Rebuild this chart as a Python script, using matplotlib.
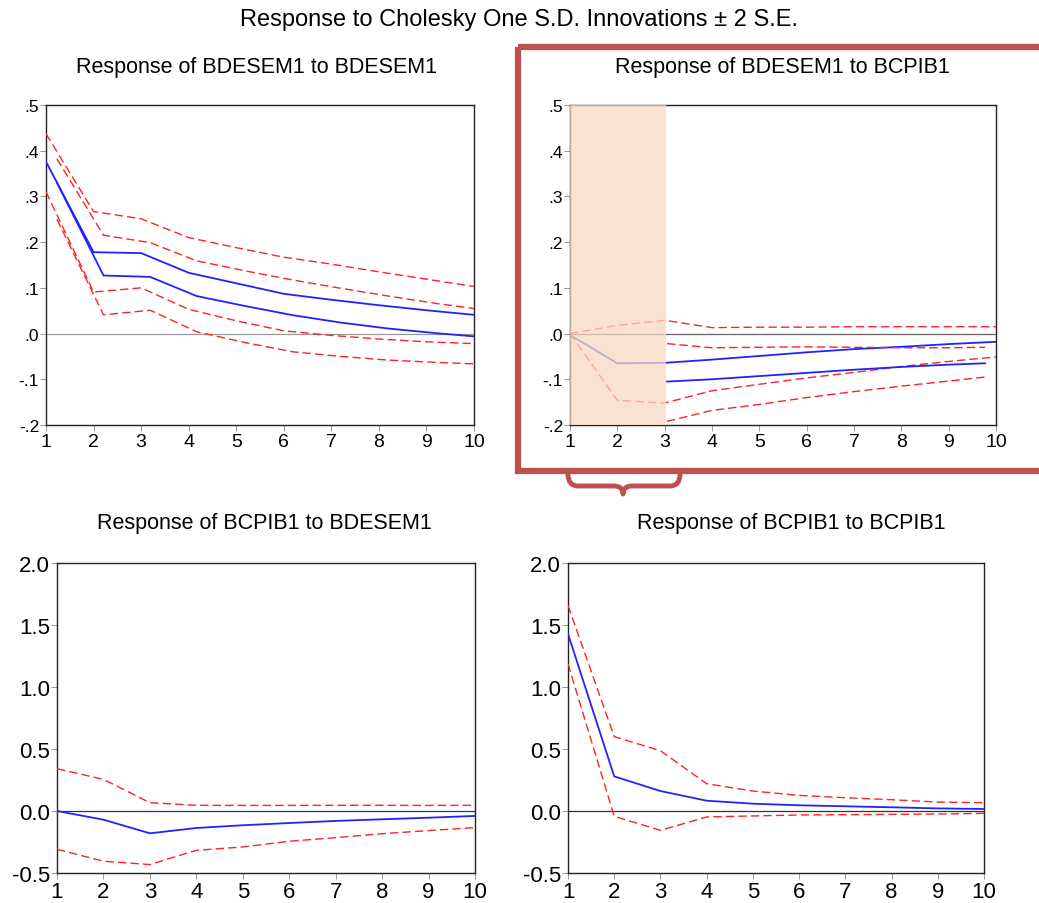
import numpy as np
import matplotlib
matplotlib.use("Agg")
import matplotlib.pyplot as plt
from matplotlib.path import Path
from matplotlib.patches import PathPatch, Rectangle

plt.rcParams['font.family'] = ['Liberation Sans', 'DejaVu Sans']

periods = np.arange(1, 11)

# Response of BDESEM1 to BDESEM1 (two overlaid estimates)
tl_resp_a = [0.376, 0.178, 0.176, 0.133, 0.110, 0.087, 0.074, 0.062, 0.051, 0.041]
tl_upper_a = [0.437, 0.267, 0.251, 0.210, 0.188, 0.167, 0.152, 0.135, 0.119, 0.103]
tl_lower_a = [0.310, 0.091, 0.100, 0.053, 0.028, 0.006, -0.004, -0.012, -0.018, -0.022]
tl_x_b = [1.23, 2.21, 3.19, 4.17, 5.2, 6.2, 7.2, 8.2, 9.2, 10.2]
tl_resp_b = [0.330, 0.127, 0.124, 0.082, 0.060, 0.040, 0.024, 0.011, 0.001, -0.008]
tl_upper_b = [0.382, 0.215, 0.199, 0.159, 0.137, 0.117, 0.099, 0.082, 0.066, 0.052]
tl_lower_b = [0.250, 0.041, 0.051, 0.004, -0.020, -0.040, -0.050, -0.058, -0.063, -0.067]

# Response of BDESEM1 to BCPIB1
tr_resp_a = [-0.003, -0.065, -0.064, -0.057, -0.049, -0.041, -0.034, -0.029, -0.023, -0.018]
tr_upper_a = [0.000, 0.018, 0.029, 0.013, 0.014, 0.014, 0.015, 0.015, 0.015, 0.015]
tr_lower_a = [0.000, -0.146, -0.152, -0.125, -0.111, -0.097, -0.085, -0.072, -0.061, -0.051]
tr_x_b = [3.05, 4, 5, 6, 7, 8, 9, 9.77]
tr_resp_b = [-0.105, -0.100, -0.093, -0.086, -0.079, -0.073, -0.068, -0.065]
tr_upper_b = [-0.022, -0.031, -0.030, -0.029, -0.030, -0.031, -0.031, -0.030]
tr_lower_b = [-0.192, -0.168, -0.155, -0.140, -0.127, -0.115, -0.104, -0.095]

# Response of BCPIB1 to BDESEM1
bl_resp = [0.000, -0.070, -0.180, -0.137, -0.115, -0.097, -0.080, -0.067, -0.054, -0.040]
bl_upper = [0.341, 0.255, 0.067, 0.046, 0.045, 0.045, 0.046, 0.046, 0.045, 0.046]
bl_lower = [-0.309, -0.405, -0.432, -0.317, -0.290, -0.244, -0.215, -0.183, -0.158, -0.134]

# Response of BCPIB1 to BCPIB1
br_resp = [1.428, 0.279, 0.161, 0.083, 0.059, 0.046, 0.038, 0.030, 0.021, 0.016]
br_upper = [1.657, 0.600, 0.486, 0.220, 0.161, 0.126, 0.107, 0.091, 0.072, 0.067]
br_lower = [1.187, -0.043, -0.156, -0.048, -0.040, -0.032, -0.030, -0.027, -0.024, -0.019]

top_ticks = [-0.2, -0.1, 0.0, 0.1, 0.2, 0.3, 0.4, 0.5]
top_labels = ['-.2', '-.1', '.0', '.1', '.2', '.3', '.4', '.5']
bot_ticks = [-0.5, 0.0, 0.5, 1.0, 1.5, 2.0]
bot_labels = ['-0.5', '0.0', '0.5', '1.0', '1.5', '2.0']

BLUE = '#2222ff'
RED = '#ff2222'
W, H = 1039, 904

fig = plt.figure(figsize=(W / 100, H / 100), dpi=100)


def px_axes(left, top, right, bottom):
    return fig.add_axes([left / W, 1 - bottom / H, (right - left) / W, (bottom - top) / H])


def px_text(x, y, s, size):
    fig.text(x / W, 1 - y / H, s, ha='center', va='center', fontsize=size)


def style(ax, ticks, labels, ylim, ysize, xsize, zc):
    ax.set_xlim(1, 10)
    ax.set_ylim(*ylim)
    ax.set_xticks(periods)
    ax.set_yticks(ticks)
    ax.set_yticklabels(labels)
    ax.tick_params(axis='y', direction='out', length=4, width=0.6, labelsize=ysize, pad=1, colors='#888888', labelcolor='black')
    ax.tick_params(axis='x', direction='out', length=4, width=0.6, labelsize=xsize, pad=2, colors='#888888', labelcolor='black')
    for s in ax.spines.values():
        s.set_linewidth(1.0)
        s.set_color('#222222')
    ax.axhline(0, color=zc, lw=0.9, zorder=1)


def draw_set(ax, x, resp, upper, lower, lw=1.3):
    ax.plot(x, resp, color=BLUE, lw=lw, zorder=3)
    ax.plot(x, upper, color=RED, lw=1.0, ls=(0, (6, 3)), zorder=3)
    ax.plot(x, lower, color=RED, lw=1.0, ls=(0, (6, 3)), zorder=3)


# top left
ax1 = px_axes(46, 106, 474, 426)
style(ax1, top_ticks, top_labels, (-0.2, 0.5), 12.5, 14, '#999999')
draw_set(ax1, periods, tl_resp_a, tl_upper_a, tl_lower_a)
draw_set(ax1, tl_x_b, tl_resp_b, tl_upper_b, tl_lower_b)

# top right
ax2 = px_axes(570, 106, 996, 426)
style(ax2, top_ticks, top_labels, (-0.2, 0.5), 12.5, 14, '#666666')
draw_set(ax2, periods, tr_resp_a, tr_upper_a, tr_lower_a)
draw_set(ax2, tr_x_b, tr_resp_b, tr_upper_b, tr_lower_b)
ax2.axvspan(1, 3.02, color='#f7d9bf', alpha=0.75, lw=0, zorder=4)

# bottom left
ax3 = px_axes(57, 564, 475, 874)
style(ax3, bot_ticks, bot_labels, (-0.5, 2.0), 16, 16, '#333366')
draw_set(ax3, periods, bl_resp, bl_upper, bl_lower)

# bottom right
ax4 = px_axes(568, 564, 984, 874)
style(ax4, bot_ticks, bot_labels, (-0.5, 2.0), 16, 16, '#333333')
draw_set(ax4, periods, br_resp, br_upper, br_lower)

px_text(519, 20, 'Response to Cholesky One S.D. Innovations \u00b1 2 S.E.', 17)
px_text(257, 68, 'Response of BDESEM1 to BDESEM1', 15.5)
px_text(782, 68, 'Response of BDESEM1 to BCPIB1', 15.5)
px_text(264, 523, 'Response of BCPIB1 to BDESEM1', 15.5)
px_text(791, 523, 'Response of BCPIB1 to BCPIB1', 15.5)

# highlight frame and brace (figure pixel overlay)
ov = fig.add_axes([0, 0, 1, 1], zorder=10)
ov.set_xlim(0, W)
ov.set_ylim(H, 0)
ov.axis('off')
ov.patch.set_alpha(0)
frame_col = '#c0504d'
ov.add_patch(Rectangle((518, 48), 540, 424, fill=False, ec=frame_col, lw=4.5))
verts = [(568, 475), (568, 487), (578, 487), (578, 487),
         (614, 487), (614, 487),
         (623, 487), (623, 495), (623, 495),
         (623, 487), (632, 487), (632, 487),
         (670, 487), (670, 487),
         (680, 487), (680, 475), (680, 475)]
codes = [Path.MOVETO, Path.CURVE3, Path.CURVE3, Path.LINETO,
         Path.LINETO, Path.LINETO,
         Path.CURVE3, Path.CURVE3, Path.LINETO,
         Path.CURVE3, Path.CURVE3, Path.LINETO,
         Path.LINETO, Path.LINETO,
         Path.CURVE3, Path.CURVE3, Path.LINETO]
ov.add_patch(PathPatch(Path(verts, codes), fill=False, ec=frame_col, lw=3.5, capstyle='round', joinstyle='round'))

fig.savefig('out.png', dpi=100)
